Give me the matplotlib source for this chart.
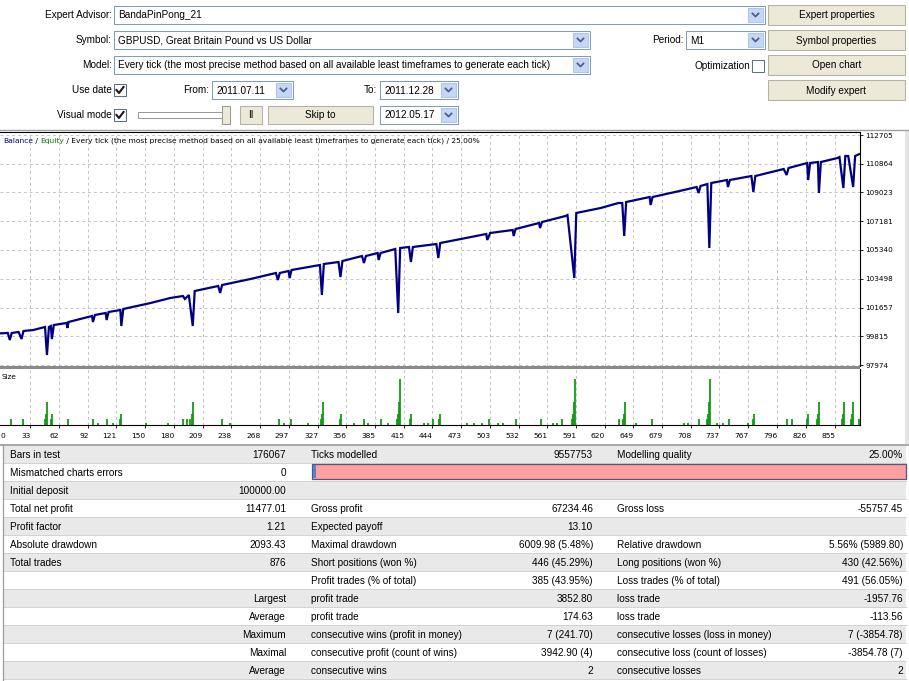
import matplotlib
matplotlib.use("Agg")
import matplotlib.pyplot as plt
from matplotlib.patches import Rectangle
from matplotlib.transforms import blended_transform_factory

# ---- balance curve (trade number, account balance) ----
bal_trade = [2, 10, 12, 14, 21, 24, 26, 36, 48, 50, 52, 54, 55, 57, 70, 71, 72, 96, 97, 99,
             110, 111, 113, 125, 126, 128, 156, 176, 189, 191, 195, 199, 201, 225, 227, 229,
             258, 284, 286, 288, 297, 298, 300, 329, 331, 333, 348, 350, 352, 372, 374, 376,
             388, 389, 391, 406, 409, 411, 420, 422, 424, 448, 450, 452, 473, 499, 500, 503,
             526, 527, 529, 553, 554, 556, 580, 582, 589, 591, 616, 634, 638, 640, 642, 666,
             667, 669, 701, 714, 716, 718, 725, 727, 729, 745, 746, 748, 770, 772, 774, 803,
             806, 808, 827, 828, 830, 838, 839, 841, 858, 860, 864, 866, 869, 874, 876, 880]
bal_value = [100000, 100024, 99575, 100024, 100088, 99639, 100152, 100216, 100408, 98615,
             100408, 100472, 99639, 100536, 100664, 100344, 100728, 101112, 100728, 101177,
             101305, 100856, 101369, 101497, 100472, 101561, 101945, 102265, 102393, 102201,
             102458, 100472, 102714, 103034, 102586, 103098, 103482, 103867, 103418, 103867,
             103995, 103546, 104059, 104379, 102458, 104443, 104571, 103610, 104635, 104955,
             104507, 104955, 105148, 104699, 105148, 105404, 101305, 105468, 105532, 104571,
             105532, 105724, 104827, 105788, 106044, 106365, 105980, 106429, 106621, 106236,
             106685, 107069, 106749, 107133, 107517, 107582, 103546, 107710, 108030, 108350,
             108350, 106236, 108414, 108734, 108222, 108734, 109183, 109375, 108991, 109439,
             109567, 105468, 109631, 109823, 109375, 109823, 110079, 109055, 110079, 110528,
             110144, 110592, 110912, 109823, 110912, 110976, 108991, 110976, 111232, 111296,
             109311, 111360, 111360, 109375, 111360, 111477]

# ---- lot size per trade ----
size_trade = [13, 25, 48, 49, 50, 54, 55, 72, 97, 102, 111, 117, 125, 126, 151, 174, 189, 193,
              196, 198, 199, 229, 237, 287, 292, 299, 317, 330, 331, 332, 350, 351, 364, 374,
              378, 391, 399, 408, 409, 410, 411, 421, 422, 435, 439, 445, 451, 452, 479, 486,
              495, 502, 511, 516, 529, 555, 567, 571, 576, 587, 588, 589, 590, 635, 639, 640,
              641, 652, 668, 701, 705, 716, 725, 726, 727, 728, 735, 741, 747, 767, 772, 773,
              806, 811, 827, 828, 837, 838, 839, 863, 864, 865, 872, 873, 874, 880]
size_lots = [0.1, 0.1, 0.1, 0.2, 0.4, 0.1, 0.2, 0.1, 0.1, 0.03, 0.1, 0.03, 0.1, 0.2, 0.03, 0.03,
             0.1, 0.1, 0.1, 0.2, 0.4, 0.1, 0.03, 0.1, 0.03, 0.1, 0.03, 0.1, 0.2, 0.4, 0.1, 0.2,
             0.03, 0.1, 0.03, 0.1, 0.03, 0.1, 0.2, 0.4, 0.8, 0.1, 0.2, 0.03, 0.03, 0.1, 0.1, 0.2,
             0.03, 0.03, 0.03, 0.1, 0.03, 0.03, 0.1, 0.1, 0.03, 0.03, 0.1, 0.1, 0.2, 0.4, 0.8,
             0.1, 0.1, 0.2, 0.4, 0.03, 0.1, 0.03, 0.03, 0.1, 0.1, 0.2, 0.4, 0.8, 0.03, 0.03, 0.1,
             0.03, 0.1, 0.2, 0.1, 0.1, 0.1, 0.2, 0.1, 0.2, 0.4, 0.1, 0.2, 0.4, 0.1, 0.2, 0.4, 0.1]

x_ticks = [0, 33, 62, 92, 121, 150, 180, 209, 238, 268, 297, 327, 356, 385, 415, 444, 473,
           503, 532, 561, 591, 620, 649, 679, 708, 737, 767, 796, 826, 855]
y_ticks = [97974, 99815, 101657, 103498, 105340, 107181, 109023, 110864, 112705]

# ---- report table ----
report_rows = [
    ["Bars in test", "176067", "Ticks modelled", "9557753", "Modelling quality", "25.00%"],
    ["Mismatched charts errors", "0", "", "", "", ""],
    ["Initial deposit", "100000.00", "", "", "", ""],
    ["Total net profit", "11477.01", "Gross profit", "67234.46", "Gross loss", "-55757.45"],
    ["Profit factor", "1.21", "Expected payoff", "13.10", "", ""],
    ["Absolute drawdown", "2093.43", "Maximal drawdown", "6009.98 (5.48%)",
     "Relative drawdown", "5.56% (5989.80)"],
    ["Total trades", "876", "Short positions (won %)", "446 (45.29%)",
     "Long positions (won %)", "430 (42.56%)"],
    ["", "", "Profit trades (% of total)", "385 (43.95%)",
     "Loss trades (% of total)", "491 (56.05%)"],
    ["", "Largest", "profit trade", "3852.80", "loss trade", "-1957.76"],
    ["", "Average", "profit trade", "174.63", "loss trade", "-113.56"],
    ["", "Maximum", "consecutive wins (profit in money)", "7 (241.70)",
     "consecutive losses (loss in money)", "7 (-3854.78)"],
    ["", "Maximal", "consecutive profit (count of wins)", "3942.90 (4)",
     "consecutive loss (count of losses)", "-3854.78 (7)"],
    ["", "Average", "consecutive wins", "2", "consecutive losses", "2"],
]

W, H = 909, 681
UI_FONT = "Liberation Sans"
UI_SIZE = 7.2
CH_FONT = "DejaVu Sans"


def fig_rect(x0, y0, x1, y1):
    return [x0 / W, 1 - y1 / H, (x1 - x0) / W, (y1 - y0) / H]


fig = plt.figure(figsize=(W / 100, H / 100), dpi=100)
ui = fig.add_axes([0, 0, 1, 1])
ui.set_xlim(0, W)
ui.set_ylim(H, 0)
ui.axis("off")


def box(x0, y0, x1, y1, fc, ec, lw=0.75, z=1):
    ui.add_patch(Rectangle((x0, y0), x1 - x0, y1 - y0, facecolor=fc,
                           edgecolor=ec, linewidth=lw, zorder=z))


def label(x, y, s, ha="left", color="black", size=UI_SIZE):
    ui.text(x, y, s, ha=ha, va="center", fontsize=size, family=UI_FONT,
            color=color, zorder=5)


def combo(x0, y0, x1, y1, text):
    box(x0, y0, x1, y1, "white", "#7F9DB9")
    label(x0 + 4, (y0 + y1) / 2 + 0.5, text)
    box(x1 - 17, y0 + 2, x1 - 2, y1 - 2, "#C6D6F6", "#B0C4EC", z=2)
    cx, cy = x1 - 9.5, (y0 + y1) / 2
    ui.plot([cx - 3, cx, cx + 3], [cy - 1.5, cy + 1.5, cy - 1.5],
            color="#4D6185", lw=1.3, zorder=3)


def button(x0, y0, x1, y1, text):
    box(x0, y0, x1, y1, "#ECE9D8", "#B5B2A3")
    label((x0 + x1) / 2, (y0 + y1) / 2 + 0.5, text, ha="center")


def checkbox(x, y, checked):
    box(x, y, x + 12, y + 12, "white", "#5B6F8C")
    if checked:
        ui.plot([x + 2.5, x + 5, x + 9.5], [y + 6, y + 9, y + 3],
                color="#1A1A1A", lw=1.5, zorder=3)


# ---- settings form ----
label(112, 15, "Expert Advisor:", ha="right")
combo(114, 6, 765, 24, "BandaPinPong_21")
button(768, 5, 905, 25, "Expert properties")

label(112, 40, "Symbol:", ha="right")
combo(114, 31, 590, 49, "GBPUSD, Great Britain Pound vs US Dollar")
label(684, 40, "Period:", ha="right")
combo(686, 31, 765, 49, "M1")
button(768, 30, 905, 50, "Symbol properties")

label(112, 65, "Model:", ha="right")
combo(114, 56, 590, 74, "Every tick (the most precise method based on all available "
                        "least timeframes to generate each tick)")
label(750, 66, "Optimization", ha="right")
checkbox(752, 60, False)
button(768, 55, 905, 75, "Open chart")

label(112, 90, "Use date", ha="right")
checkbox(114, 84, True)
label(209, 90, "From:", ha="right")
combo(212, 81, 293, 99, "2011.07.11")
label(377, 90, "To:", ha="right")
combo(380, 81, 458, 99, "2011.12.28")
button(768, 80, 905, 100, "Modify expert")

label(112, 115, "Visual mode", ha="right")
checkbox(114, 109, True)
box(138, 112, 228, 118, "white", "#9A9A9A")
box(222, 106, 230, 124, "#ECE9D8", "#9E9B8C", z=2)
button(240, 106, 262, 124, "II")
button(268, 106, 373, 124, "Skip to")
combo(380, 106, 458, 124, "2012.05.17")

ui.plot([0, W], [130, 130], color="#A0A0A0", lw=1.0)
box(905, 131, 909, 444, "#E4E4E4", "none")

# ---- balance chart ----
grid_kw = dict(color="#C4C4C4", lw=0.7, ls=(0, (3, 3)))

ax = fig.add_axes(fig_rect(0, 132, 860, 366))
ax.plot(bal_trade, bal_value, color="#000080", lw=1.6, solid_joinstyle="miter")
ax.set_xlim(2, 881)
ax.set_ylim(97910, 112898)
ax.set_xticks(x_ticks[1:])
ax.set_yticks(y_ticks)
ax.set_yticklabels([str(v) for v in y_ticks], family=CH_FONT, fontsize=5.2)
ax.yaxis.tick_right()
ax.tick_params(axis="x", length=0, labelbottom=False)
ax.tick_params(axis="y", length=2.5, width=0.6, pad=1.5)
ax.grid(True, **grid_kw)
for side in ("left", "bottom"):
    ax.spines[side].set_visible(False)
for side in ("top", "right"):
    ax.spines[side].set_linewidth(0.8)

box(0, 366, 860, 369, "#8A8A8A", "none")

# ---- lot size panel ----
sx = fig.add_axes(fig_rect(0, 369, 860, 425))
sx.vlines(size_trade, 0, size_lots, color="#129A12", lw=1.3)
sx.set_xlim(2, 881)
sx.set_ylim(0, 0.98)
sx.set_yticks([])
sx.set_xticks(x_ticks[1:])
sx.tick_params(axis="x", length=2.5, width=0.6, labelbottom=False)
sx.grid(True, axis="x", **grid_kw)
for side in ("left", "top"):
    sx.spines[side].set_visible(False)
for side in ("bottom", "right"):
    sx.spines[side].set_linewidth(0.8)
sx.text(4, 0.86, "Size", transform=blended_transform_factory(sx.transData, sx.transAxes),
        fontsize=5.2, family=CH_FONT, va="center")
tr = blended_transform_factory(sx.transData, sx.transAxes)
for v in x_ticks:
    if v == 0:
        sx.text(2.4, -0.14, "0", transform=tr, ha="left", va="top",
                fontsize=5.4, family=CH_FONT)
    else:
        sx.text(v + 0.5, -0.14, str(v), transform=tr, ha="right", va="top",
                fontsize=5.4, family=CH_FONT)

ui.plot([0, W], [444.5, 444.5], color="#A8A8A8", lw=1.4)

# ---- chart caption ----
fig.canvas.draw()
renderer = fig.canvas.get_renderer()
cap_x = 3
for part, col in [("Balance", "#000080"), (" / ", "black"), ("Equity", "#008000"),
                  (" / Every tick (the most precise method based on all available least "
                   "timeframes to generate each tick) / 25.00%", "black")]:
    t = fig.text(cap_x, 141, part, transform=ui.transData, color=col, va="center",
                 fontsize=5.4, family=CH_FONT, zorder=10)
    cap_x += t.get_window_extent(renderer).width

# ---- report table ----
row_top, row_h = 445, 18
col_x = [10, 286, 311, 593, 617, 903]
col_ha = ["left", "right", "left", "right", "left", "right"]
for i, row in enumerate(report_rows):
    y0 = row_top + i * row_h
    box(3, y0, 906, y0 + row_h, "#E9E9E9" if i % 2 == 0 else "white", "none", z=0.5)
    ui.plot([3, 906], [y0 + row_h, y0 + row_h], color="#D2D2D2", lw=0.7, zorder=0.8)
    for x, ha, s in zip(col_x, col_ha, row):
        if s:
            label(x, y0 + row_h / 2 + 0.5, s, ha=ha)
    if row[0] == "Mismatched charts errors":
        box(312, y0 + 1, 906, y0 + row_h - 2, "#FFA0A0", "#55557F", lw=0.9, z=2)
        box(313, y0 + 2, 316, y0 + row_h - 3, "#5A7FD0", "none", z=3)
ui.plot([3, 3], [row_top, H], color="#9C9C9C", lw=0.9)

fig.savefig("out.png", dpi=100)
